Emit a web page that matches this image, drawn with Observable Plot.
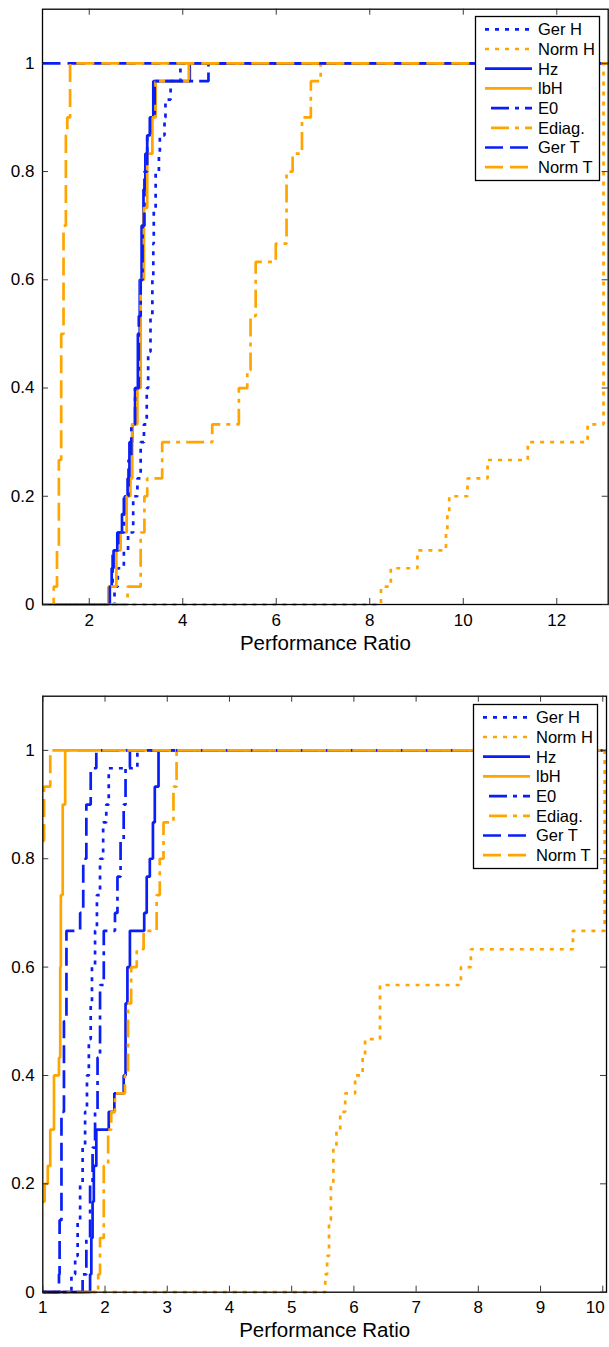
<!DOCTYPE html>
<html>
<head>
<meta charset="utf-8">
<script src="https://cdn.jsdelivr.net/npm/d3@7"></script>
<script src="https://cdn.jsdelivr.net/npm/@observablehq/plot@0.6"></script>
<style>
  body { margin: 0; background: #fff; font-family: "Liberation Sans", Arial, Helvetica, sans-serif; }
  .panel { position: relative; width: 609px; }
  .panel svg { display: block; }
</style>
</head>
<body>
<div id="top" class="panel"></div>
<div id="bot" class="panel"></div>
<script>
// ---------- legend / series names ----------
const seriesNames = ["Ger H", "Norm H", "Hz", "lbH", "E0", "Ediag.", "Ger T", "Norm T"];

// ---------- axes ----------
const topXTicks = [2, 4, 6, 8, 10, 12];
const topXTickLabels = ["2", "4", "6", "8", "10", "12"];
const botXTicks = [1, 2, 3, 4, 5, 6, 7, 8, 9, 10];
const botXTickLabels = ["1", "2", "3", "4", "5", "6", "7", "8", "9", "10"];
const yTicks = [0, 0.2, 0.4, 0.6, 0.8, 1];
const yTickLabels = ["0", "0.2", "0.4", "0.6", "0.8", "1"];
const xLabel = "Performance Ratio";

// ---------- top panel data (performance ratio tau, fraction of problems) ----------
const topGerH_tau  = [1, 2.54, 2.61, 2.74, 2.83, 2.94, 3.03, 3.10, 3.17, 3.23, 3.26, 3.31, 3.35, 3.37, 3.38, 3.42, 3.49, 3.51, 3.61, 3.63, 3.74, 3.95];
const topGerH_frac = [0, 0.033, 0.067, 0.1, 0.133, 0.2, 0.233, 0.3, 0.333, 0.4, 0.467, 0.533, 0.6, 0.667, 0.733, 0.8, 0.833, 0.867, 0.9, 0.933, 0.967, 1];
const topNormH_tau  = [1, 8.24, 8.45, 9.02, 9.63, 9.66, 9.70, 10.09, 10.52, 11.38, 12.66, 13.0];
const topNormH_frac = [0, 0.033, 0.067, 0.1, 0.133, 0.167, 0.2, 0.233, 0.267, 0.3, 0.333, 1];
const topHz_tau  = [1, 2.42, 2.48, 2.52, 2.60, 2.70, 2.76, 2.82, 2.86, 2.92, 2.98, 3.04, 3.08, 3.12, 3.16, 3.20, 3.24, 3.30, 3.37, 4.15];
const topHz_frac = [0, 0.033, 0.067, 0.1, 0.133, 0.167, 0.2, 0.233, 0.3, 0.333, 0.4, 0.5, 0.6, 0.7, 0.767, 0.833, 0.867, 0.9, 0.967, 1];
const topLbH_tau  = [1, 2.42, 2.58, 2.67, 2.80, 2.88, 2.92, 3.03, 3.10, 3.17, 3.24, 3.35, 3.42, 4.13];
const topLbH_frac = [0, 0.033, 0.1, 0.133, 0.2, 0.233, 0.333, 0.4, 0.6, 0.733, 0.833, 0.9, 0.967, 1];
const topE0_tau  = [1, 2.44, 2.50, 2.62, 2.74, 2.84, 2.90, 2.98, 3.06, 3.10, 3.14, 3.18, 3.24, 3.30, 3.40, 4.55];
const topE0_frac = [0, 0.033, 0.1, 0.133, 0.2, 0.267, 0.333, 0.4, 0.533, 0.6, 0.7, 0.8, 0.867, 0.9, 0.967, 1];
const topEdiag_tau  = [1, 2.82, 3.10, 3.18, 3.24, 3.56, 4.63, 5.20, 5.38, 5.45, 5.56, 5.99, 6.22, 6.35, 6.55, 6.74, 6.95];
const topEdiag_frac = [0, 0.033, 0.133, 0.2, 0.233, 0.3, 0.333, 0.4, 0.433, 0.533, 0.633, 0.667, 0.8, 0.833, 0.9, 0.967, 1];
const topGerT_tau  = [1];
const topGerT_frac = [1];
const topNormT_tau  = [1, 1.24, 1.31, 1.35, 1.40, 1.45, 1.50, 1.53, 1.59];
const topNormT_frac = [0, 0.033, 0.1, 0.267, 0.5, 0.7, 0.867, 0.9, 1];

// ---------- bottom panel data ----------
const botGerH_tau  = [1, 1.46, 1.52, 1.56, 1.60, 1.64, 1.68, 1.71, 1.74, 1.77, 1.79, 1.84, 1.87, 1.92, 1.97, 2.02, 2.06, 2.52];
const botGerH_frac = [0, 0.033, 0.067, 0.133, 0.2, 0.267, 0.333, 0.4, 0.467, 0.533, 0.6, 0.667, 0.733, 0.8, 0.867, 0.9, 0.967, 1];
const botNormH_tau  = [1, 5.54, 5.57, 5.60, 5.63, 5.67, 5.72, 5.78, 5.86, 6.02, 6.14, 6.18, 6.42, 7.72, 7.88, 9.52, 10.03];
const botNormH_frac = [0, 0.033, 0.067, 0.133, 0.2, 0.267, 0.3, 0.333, 0.367, 0.4, 0.433, 0.467, 0.567, 0.6, 0.633, 0.667, 1];
const botHz_tau  = [1, 1.76, 1.78, 1.80, 1.82, 1.86, 2.06, 2.15, 2.30, 2.33, 2.36, 2.40, 2.63, 2.67, 2.72, 2.77, 2.80, 2.86];
const botHz_frac = [0, 0.033, 0.1, 0.167, 0.233, 0.3, 0.333, 0.367, 0.4, 0.533, 0.6, 0.667, 0.7, 0.767, 0.8, 0.867, 0.933, 1];
const botLbH_tau  = [1, 1.03, 1.08, 1.12, 1.18, 1.26, 1.28, 1.29, 1.32, 1.36];
const botLbH_frac = [0.167, 0.2, 0.233, 0.3, 0.4, 0.433, 0.6, 0.733, 0.9, 1];
const botE0_tau  = [1, 1.64, 1.70, 1.76, 1.80, 1.84, 1.88, 1.92, 1.98, 2.16, 2.20, 2.25, 2.30, 2.33, 2.40];
const botE0_frac = [0, 0.033, 0.1, 0.2, 0.267, 0.333, 0.433, 0.567, 0.667, 0.7, 0.767, 0.833, 0.9, 0.967, 1];
const botEdiag_tau  = [1, 1.89, 1.92, 1.98, 2.05, 2.10, 2.16, 2.32, 2.37, 2.42, 2.51, 2.62, 2.83, 2.88, 2.94, 3.10, 3.15];
const botEdiag_frac = [0, 0.033, 0.1, 0.233, 0.3, 0.333, 0.367, 0.4, 0.533, 0.6, 0.633, 0.667, 0.733, 0.8, 0.867, 0.933, 1];
const botGerT_tau  = [1, 1.26, 1.27, 1.30, 1.34, 1.38, 1.60, 1.65, 1.70, 1.77, 1.86];
const botGerT_frac = [0, 0.033, 0.133, 0.333, 0.5, 0.667, 0.7, 0.8, 0.9, 0.967, 1];
const botNormT_tau  = [1, 1.02, 1.12];
const botNormT_frac = [0.833, 0.933, 1];

// ---------- styles ----------
const BLUE = "#0a1ff6", ORANGE = "#ffa500";
const seriesColors = [BLUE, ORANGE, BLUE, ORANGE, BLUE, ORANGE, BLUE, ORANGE];
const DOT = "4,6", DASH = "18,7", DASHDOT = "18,6,4,6";
const seriesDashes = [DOT, DOT, null, null, DASHDOT, DASHDOT, DASH, DASH];
const LW = 2.7;
const FONT = "'Liberation Sans', Arial, Helvetica, sans-serif";

function makePanel(el, cfg) {
  const W = 609;
  const {height, mt, mb, ml, mr, xDomain, xTicks, xTickLabels, tau, frac, legendLeft, legendTop, edgeTick} = cfg;
  const plotW = W - ml - mr, plotH = height - mt - mb;
  const marks = [];
  tau.forEach((ts, i) => {
    const pts = ts.map((t, j) => ({tau: t, frac: frac[i][j]}));
    pts.push({tau: xDomain[1], frac: frac[i][frac[i].length - 1]});
    const opts = {x: "tau", y: "frac", curve: "step-after", stroke: seriesColors[i], strokeWidth: LW,
                  strokeLinejoin: "miter", strokeLinecap: "butt"};
    if (seriesDashes[i]) opts.strokeDasharray = seriesDashes[i];
    marks.push(Plot.line(pts, opts));
  });
  marks.push(Plot.frame({stroke: "#000", strokeWidth: 1.3}));
  // inward ticks on all four sides
  marks.push(Plot.tickX(xTicks, {x: d => d, insetTop: plotH - 6, stroke: "#222", strokeWidth: 0.9}));
  marks.push(Plot.tickX(xTicks, {x: d => d, insetBottom: plotH - 6, stroke: "#222", strokeWidth: 0.9}));
  marks.push(Plot.tickY(yTicks, {y: d => d, insetRight: plotW - 6, stroke: "#222", strokeWidth: 0.9}));
  marks.push(Plot.tickY(yTicks, {y: d => d, insetLeft: plotW - 6, stroke: "#222", strokeWidth: 0.9}));
  // x tick labels; a label at the very right edge is end-anchored so it stays on the page
  const innerTicks = edgeTick == null ? xTicks : xTicks.filter(d => d !== edgeTick);
  marks.push(Plot.axisX({ticks: innerTicks, tickSize: 0, tickPadding: 9, label: null,
                         tickFormat: d => xTickLabels[xTicks.indexOf(d)], fontSize: 17}));
  if (edgeTick != null) {
    marks.push(Plot.text([edgeTick], {x: d => d, text: d => xTickLabels[xTicks.indexOf(d)],
      frameAnchor: "bottom", lineAnchor: "top", textAnchor: "end", dy: 9, dx: 2, fontSize: 17}));
  }
  marks.push(Plot.axisY({ticks: yTicks, tickSize: 0, tickPadding: 8, label: null,
                         tickFormat: d => yTickLabels[yTicks.indexOf(d)], fontSize: 17}));
  marks.push(Plot.text([xLabel], {text: d => d, frameAnchor: "bottom", dy: 45, fontSize: 20.5}));

  const chart = Plot.plot({
    width: W, height,
    marginTop: mt, marginBottom: mb, marginLeft: ml, marginRight: mr,
    x: {domain: xDomain},
    y: {domain: [0, 1.1]},
    style: {fontFamily: FONT, fontSize: "17px", color: "#000", background: "#fff"},
    marks
  });
  el.appendChild(chart);

  // legend overlay (inside plot area, top-right)
  const lg = d3.select(el).append("svg")
    .attr("width", W).attr("height", height)
    .style("position", "absolute").style("left", "0px").style("top", "0px")
    .style("pointer-events", "none");
  const bw = 124, bh = 164, rowH = 19.7, first = 13.3;
  lg.append("rect").attr("x", legendLeft + 0.5).attr("y", legendTop + 0.5)
    .attr("width", bw).attr("height", bh)
    .attr("fill", "#fff").attr("stroke", "#000").attr("stroke-width", 1.3);
  seriesNames.forEach((name, i) => {
    const cy = legendTop + first + i * rowH;
    const ln = lg.append("line")
      .attr("x1", legendLeft + 10).attr("x2", legendLeft + 57)
      .attr("y1", cy).attr("y2", cy)
      .attr("stroke", seriesColors[i]).attr("stroke-width", LW);
    if (seriesDashes[i]) ln.attr("stroke-dasharray", seriesDashes[i]);
    if (seriesDashes[i] === DASHDOT) ln.attr("stroke-dashoffset", 28);
    lg.append("text").attr("x", legendLeft + 63).attr("y", cy + 5.8)
      .attr("font-family", FONT)
      .attr("font-size", 16.5).attr("fill", "#000").text(name);
  });
}

makePanel(document.getElementById("top"), {
  height: 687, mt: 8.7, mb: 83, ml: 42, mr: 1.3,
  xDomain: [1, 13.1], xTicks: topXTicks, xTickLabels: topXTickLabels,
  tau:  [topGerH_tau, topNormH_tau, topHz_tau, topLbH_tau, topE0_tau, topEdiag_tau, topGerT_tau, topNormT_tau],
  frac: [topGerH_frac, topNormH_frac, topHz_frac, topLbH_frac, topE0_frac, topEdiag_frac, topGerT_frac, topNormT_frac],
  legendLeft: 475, legendTop: 16, edgeTick: null
});

makePanel(document.getElementById("bot"), {
  height: 660, mt: 8.7, mb: 55.3, ml: 42.3, mr: 3,
  xDomain: [1, 10.06], xTicks: botXTicks, xTickLabels: botXTickLabels,
  tau:  [botGerH_tau, botNormH_tau, botHz_tau, botLbH_tau, botE0_tau, botEdiag_tau, botGerT_tau, botNormT_tau],
  frac: [botGerH_frac, botNormH_frac, botHz_frac, botLbH_frac, botE0_frac, botEdiag_frac, botGerT_frac, botNormT_frac],
  legendLeft: 473, legendTop: 17, edgeTick: 10
});
</script>
</body>
</html>
